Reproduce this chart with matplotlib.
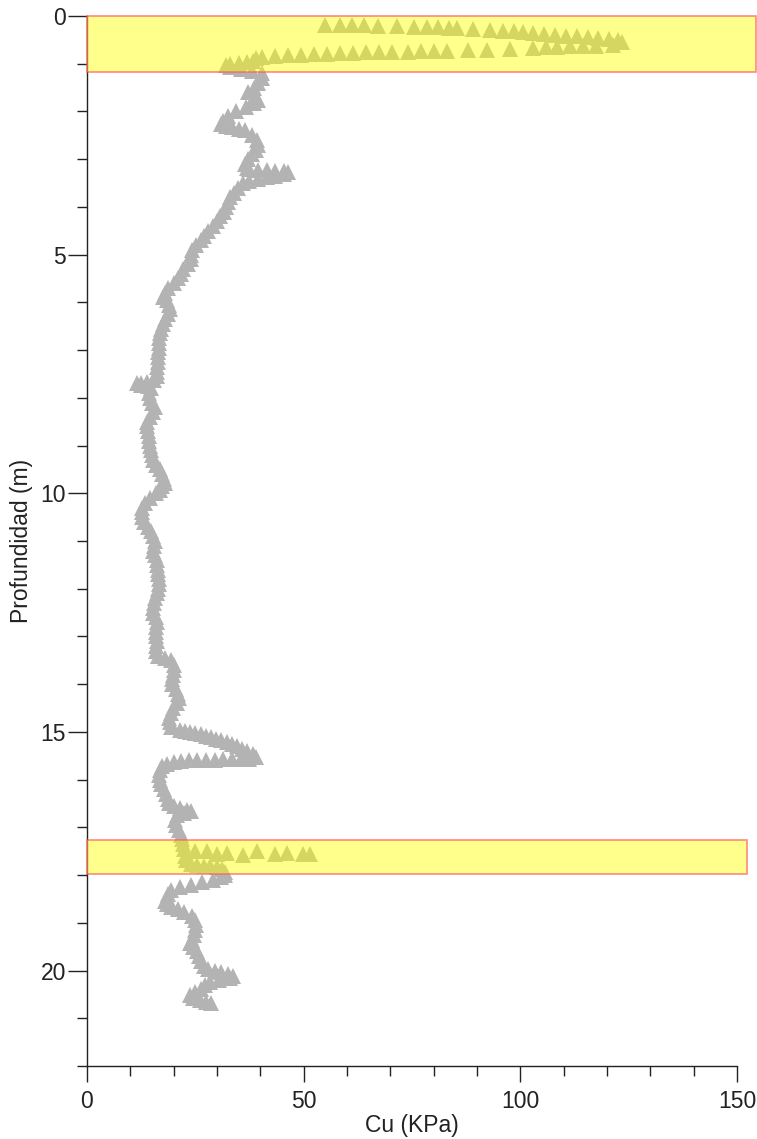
import matplotlib
matplotlib.use("Agg")
import matplotlib.pyplot as plt
from matplotlib.patches import Rectangle
from matplotlib.ticker import MultipleLocator

plt.rcParams['font.family'] = ['Liberation Sans', 'DejaVu Sans']

# Undrained shear strength profile (depth in m, Cu in kPa)
depth_m = [
    0.19, 0.19, 0.20, 0.20, 0.21, 0.22, 0.23, 0.24, 0.24, 0.25, 0.26, 0.27, 0.29,
    0.31, 0.32, 0.33, 0.35, 0.37, 0.39, 0.41, 0.43, 0.44, 0.46, 0.48, 0.51, 0.55,
    0.61, 0.62, 0.63, 0.64, 0.65, 0.66, 0.68, 0.69, 0.71, 0.71, 0.73, 0.73, 0.74,
    0.75, 0.75, 0.75, 0.76, 0.77, 0.78, 0.79, 0.80, 0.81, 0.82, 0.83, 0.85, 0.89,
    0.94, 0.97, 0.99, 1.01, 1.03, 1.07, 1.11, 1.15,
    1.20, 1.30, 1.40, 1.50, 1.60, 1.70, 1.76, 1.82, 1.90, 2.00, 2.10, 2.20, 2.26,
    2.30, 2.33, 2.36, 2.40, 2.50, 2.60, 2.70, 2.80, 2.90, 3.00, 3.10, 3.18,
    3.20, 3.22, 3.23, 3.24, 3.25, 3.28, 3.32, 3.35, 3.38, 3.42, 3.46, 3.50,
    3.60, 3.70, 3.80, 3.90, 4.00, 4.10, 4.20, 4.30, 4.40, 4.50, 4.60, 4.70, 4.80,
    4.90, 5.00, 5.10, 5.20, 5.30, 5.40, 5.50, 5.60, 5.70, 5.80, 5.88, 5.95, 6.05,
    6.15, 6.25, 6.35, 6.45, 6.55, 6.65, 6.75, 6.85, 6.95, 7.05, 7.15, 7.25, 7.35,
    7.45, 7.55, 7.62, 7.66, 7.68, 7.70, 7.73, 7.76, 7.80, 7.90, 8.00, 8.10, 8.20,
    8.30, 8.40, 8.50, 8.60, 8.70, 8.80, 8.90, 9.00, 9.10, 9.20, 9.30, 9.40, 9.50,
    9.60, 9.70, 9.78, 9.85, 9.93, 10.00, 10.10, 10.20, 10.30, 10.40, 10.50, 10.60,
    10.70, 10.80, 10.90, 11.00, 11.10, 11.20, 11.30, 11.40, 11.50, 11.60, 11.70,
    11.80, 11.90, 12.00, 12.10, 12.20, 12.30, 12.40, 12.50, 12.60, 12.70, 12.80,
    12.90, 13.00, 13.10, 13.20, 13.30, 13.40, 13.45, 13.50, 13.60, 13.70, 13.80,
    13.90, 14.00, 14.10, 14.20, 14.30, 14.40, 14.50, 14.60, 14.70, 14.80, 14.90,
    14.97, 14.99, 15.01, 15.03, 15.05, 15.08, 15.11, 15.14, 15.17, 15.21, 15.25,
    15.30, 15.35, 15.41, 15.47, 15.52, 15.56, 15.57, 15.57, 15.57, 15.58, 15.58,
    15.58, 15.59, 15.60, 15.63, 15.67, 15.72, 15.80, 15.90, 16.00, 16.10, 16.20,
    16.30, 16.40, 16.50, 16.55, 16.60, 16.63, 16.66, 16.70, 16.75, 16.85, 16.95,
    17.05, 17.15, 17.25, 17.35, 17.45,
    17.49, 17.50, 17.56, 17.53, 17.58, 17.50, 17.56, 17.54, 17.55, 17.55,
    17.60, 17.68, 17.76, 17.79, 17.80, 17.81, 17.83, 17.87, 17.93, 18.00, 18.05,
    18.10, 18.15, 18.20, 18.26, 18.32, 18.40, 18.50, 18.55, 18.60, 18.66, 18.72,
    18.78, 18.85, 18.95, 19.05, 19.15, 19.25, 19.35, 19.43, 19.50, 19.60, 19.70,
    19.80, 19.90, 19.97, 20.00, 20.03, 20.07, 20.11, 20.15, 20.19, 20.24, 20.30,
    20.38, 20.45, 20.52, 20.57, 20.62, 20.66, 20.68,
]

cu_kpa = [
    54.9, 58.4, 61.2, 63.9, 67.2, 71.5, 75.4, 78.4, 80.9, 83.5, 85.5, 89.0, 93.0,
    96.0, 98.5, 100.5, 103.0, 105.5, 108.0, 110.5, 113.0, 115.5, 118.0, 120.5, 122.5, 123.5,
    121.3, 117.4, 114.4, 111.4, 108.5, 106.0, 103.0, 97.5, 92.4, 88.0, 83.0, 80.0, 77.0,
    74.0, 70.4, 67.4, 64.4, 61.4, 58.4, 55.4, 52.4, 49.4, 46.4, 43.4, 40.4, 38.9,
    38.4, 37.0, 35.0, 33.0, 32.0, 33.0, 35.5, 38.0,
    40.5, 40.5, 39.5, 38.5, 37.2, 38.5, 39.5, 38.5, 36.7, 34.5, 32.5, 31.3, 31.0,
    32.0, 33.5, 35.0, 36.5, 38.0, 39.2, 39.5, 39.0, 38.0, 37.2, 36.5, 37.0,
    37.5, 39.5, 41.5, 43.5, 45.5, 46.3, 45.5, 43.5, 41.5, 39.5, 37.5, 36.0,
    34.9, 34.0, 33.0, 32.5, 32.0, 31.6, 30.8, 30.0, 29.0, 28.0, 27.0, 26.2, 25.2,
    24.3, 24.0, 23.9, 23.2, 22.2, 21.6, 20.9, 20.0, 18.8, 18.0, 17.6, 18.5, 18.9,
    19.2, 18.6, 18.0, 17.6, 17.0, 16.8, 16.7, 16.6, 16.6, 16.5, 16.4, 16.3, 16.2,
    16.2, 16.1, 15.5, 13.8, 12.5, 11.6, 12.5, 14.0, 14.8, 14.3, 14.6, 14.9, 15.6,
    15.3, 14.6, 13.9, 13.8, 14.1, 14.3, 14.4, 14.5, 14.8, 15.0, 15.3, 16.0, 16.8,
    17.3, 17.8, 18.0, 17.2, 16.8, 15.9, 14.6, 13.5, 12.8, 12.6, 12.7, 13.2,
    14.0, 14.8, 15.3, 15.7, 15.5, 15.3, 15.7, 16.1, 16.2, 16.3, 16.4,
    16.6, 16.6, 16.5, 16.2, 15.8, 15.5, 15.2, 15.3, 15.9, 16.1, 15.9,
    15.9, 16.0, 16.1, 15.9, 15.9, 16.5, 18.0, 19.5, 20.0, 20.1, 19.8,
    19.6, 19.6, 20.5, 21.1, 21.2, 20.7, 19.8, 19.3, 19.0, 19.1, 19.5,
    21.5, 22.6, 23.8, 25.0, 26.2, 27.4, 28.6, 29.8, 31.0, 32.2, 33.4,
    34.6, 35.8, 37.0, 38.2, 39.0, 37.5, 35.5, 33.5, 31.5, 29.5, 27.5,
    25.5, 23.5, 21.7, 20.0, 18.5, 17.3, 16.8, 16.6, 16.8, 17.1, 17.8,
    18.3, 18.7, 18.9, 20.0, 21.5, 23.0, 24.0, 22.5, 20.8, 20.3, 20.6,
    21.2, 21.7, 22.0, 22.2, 22.5,
    24.9, 27.6, 29.9, 32.2, 36.1, 39.2, 43.4, 46.1, 49.9, 51.5,
    22.6, 22.8, 24.0, 25.5, 27.0, 28.5, 30.0, 31.2, 31.8, 31.8, 31.0,
    29.0, 26.5, 24.0, 21.5, 19.5, 18.8, 18.6, 18.0, 18.5, 19.5, 21.0,
    22.5, 24.2, 25.0, 25.2, 25.0, 24.6, 24.3, 23.8, 24.5, 25.4, 25.8,
    26.3, 27.0, 28.0, 29.5, 31.0, 32.5, 33.7, 33.0, 30.5, 28.5, 27.2,
    26.3, 25.0, 23.8, 24.5, 26.0, 27.5, 28.6,
]

# Highlighted layers: depth ranges (m) and horizontal extent (kPa)
band_top = [0.0, 17.26]
band_bottom = [1.17, 17.98]
band_cu_max = [154.3, 152.2]

x_major_ticks = [0, 50, 100, 150]
y_major_ticks = [0, 5, 10, 15, 20]

fig = plt.figure(figsize=(7.57, 11.39), dpi=100)
ax = fig.add_axes([0.1149, 0.0641, 0.8587, 0.9219])

ax.plot(cu_kpa, depth_m, linestyle='none', marker='^', markersize=12,
        markerfacecolor='#b3b3b3', markeredgewidth=0, zorder=2)

for top, bottom, xmax in zip(band_top, band_bottom, band_cu_max):
    ax.add_patch(Rectangle((0, top), xmax, bottom - top,
                           facecolor=(1.0, 1.0, 0.0, 0.45),
                           edgecolor=(1.0, 0.35, 0.35, 0.65),
                           linewidth=1.3, clip_on=False, zorder=3))

ax.set_xlim(0, 150)
ax.set_ylim(22, 0)

ax.set_xticks(x_major_ticks)
ax.set_yticks(y_major_ticks)
ax.xaxis.set_minor_locator(MultipleLocator(10))
ax.yaxis.set_minor_locator(MultipleLocator(1))

for side in ('top', 'right'):
    ax.spines[side].set_visible(False)
for side in ('left', 'bottom'):
    ax.spines[side].set_linewidth(1.0)
    ax.spines[side].set_color('#222222')

ax.tick_params(axis='y', which='major', length=13.5, width=1.0, pad=1.5,
               labelsize=16.5, colors='#222222')
ax.tick_params(axis='x', which='major', length=11.5, width=1.0, pad=5.5,
               labelsize=16.5, colors='#222222')
ax.tick_params(which='minor', length=7.2, width=1.0, color='#222222')

ax.set_xlabel('Cu (KPa)', fontsize=16.5, color='#222222')
ax.set_ylabel('Profundidad (m)', fontsize=16.5, color='#222222')
ax.xaxis.set_label_coords(0.5, -0.046)
ax.xaxis.label.set_verticalalignment('top')
ax.yaxis.set_label_coords(-0.083, 0.5)

fig.savefig('out.png', dpi=100)
